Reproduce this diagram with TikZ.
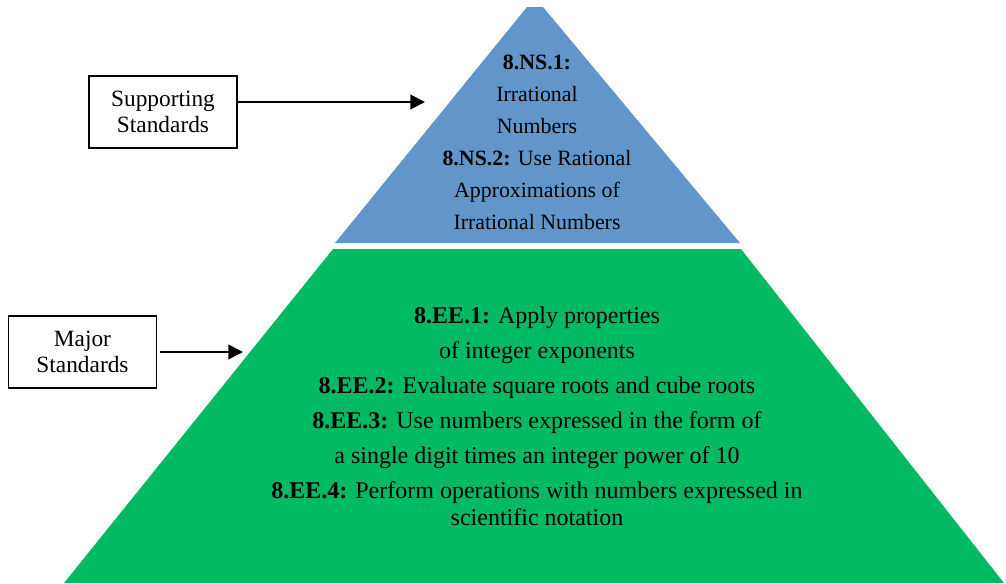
\documentclass[tikz,border=0pt]{standalone}
\usepackage{fontspec}
\setmainfont{Liberation Serif}
\usetikzlibrary{arrows.meta}

\definecolor{pyrblue}{RGB}{98,150,202}
\definecolor{pyrgreen}{RGB}{0,185,99}

\begin{document}
\begin{tikzpicture}[x=0.75pt, y=-0.75pt,
    labelbox/.style={draw, line width=1.1pt, minimum width=111pt, minimum height=54pt,
      align=center, font=\fontsize{17.5}{19.5}\selectfont},
    pointer/.style={line width=1.5pt, -{Triangle[length=11pt, width=11pt]}}]

    \useasboundingbox (0,0) rectangle (1006,583);

    % Coordinates for the pyramid
    \coordinate (T1) at (527,7);     % apex, left
    \coordinate (T2) at (543,7);     % apex, right
    \coordinate (B1) at (335,243);   % blue base, left
    \coordinate (B2) at (740,243);   % blue base, right
    \coordinate (G1) at (333,249);   % green top, left
    \coordinate (G2) at (741,249);   % green top, right
    \coordinate (G3) at (1004,583);  % green bottom, right
    \coordinate (G4) at (64,583);    % green bottom, left

    % Draw the two layers
    \fill[pyrblue] (T1) -- (T2) -- (B2) -- (B1) -- cycle;
    \fill[pyrgreen] (G1) -- (G2) -- (G3) -- (G4) -- cycle;

    % Texts inside the layers
    \node[align=center, font=\fontsize{16.4}{24}\selectfont] (top) at (537,142)
      {\textbf{8.NS.1:}\\ Irrational\\ Numbers\\ \textbf{8.NS.2:} Use Rational\\
       Approximations of\\ Irrational Numbers};
    \node[align=center, font=\fontsize{18}{26.25}\selectfont] (base) at (537,416)
      {\textbf{8.EE.1:} Apply properties\\ of integer exponents\\
       \textbf{8.EE.2:} Evaluate square roots and cube roots\\
       \textbf{8.EE.3:} Use numbers expressed in the form of\\
       a single digit times an integer power of 10\\
       \textbf{8.EE.4:} Perform operations with numbers expressed in\\[-6pt]
       scientific notation};

    % Labels on the left
    \node[labelbox] (sup) at (163,112) {Supporting\\ Standards};
    \node[labelbox] (maj) at (82.5,352) {Major\\ Standards};

    % Arrows
    \coordinate (supEnd) at (425,102);
    \coordinate (majEnd) at (243,352);
    \draw[pointer] (sup.east |- supEnd) -- (supEnd);
    \draw[pointer] ([xshift=2pt]maj.east) -- (majEnd);

\end{tikzpicture}
\end{document}
